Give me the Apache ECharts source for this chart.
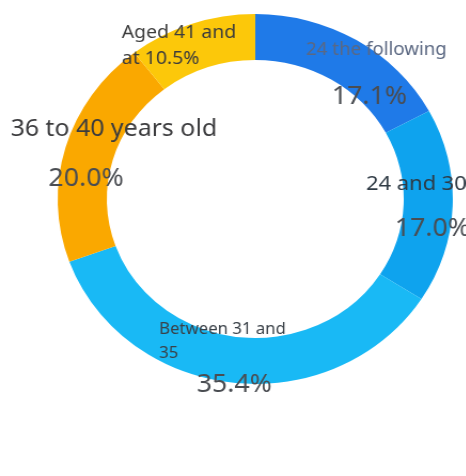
<!DOCTYPE html>
<html><head><meta charset="utf-8">
<script src="https://cdn.jsdelivr.net/npm/echarts@6/dist/echarts.min.js"></script>
<style>
html,body{margin:0;padding:0;background:#fff;overflow:hidden;}
#c{width:436px;height:476px;transform:scaleX(1.068);transform-origin:0 0;}
</style></head>
<body><div id="c"></div>
<script>
const categories = ['24 the following', '24 and 30', 'Between 31 and 35', '36 to 40 years old', 'Aged 41 and at'];
const values = [17.1, 17.0, 35.4, 20.0, 10.5];

// styling (not data)
const colors = ['#1f7ae8', '#0ea3ee', '#19b9f5', '#faa800', '#fcc80a'];
const nameSizes = [17.5, 20.5, 15.7, 23.3, 18.2];
const nameLH = [46, 42, 24, 52, 26];
const pctLH = [48, 48, 38, 48, 26];
const nameColors = ['#5b6882', '#2f3a44', '#3a4148', '#3c3c3e', '#3c3c3c'];
const labelOffsets = [[29, 17], [-14, 3], [-12, -2], [26, 0], [-18, 3]];
const pctPadding = [[0, 13, 0, 0], [0, 0, 0, 30], [0, 0, 0, 22], [0, 52, 0, 0], [0, 0, 0, 0]];
const wrapAt = [0, 0, 14, 0, 11];
const inlinePct = [false, false, false, false, true];
const leftLines = [false, false, true, false, true];

function wrap(text, max) {
  if (!max) return [text];
  const words = text.split(' ');
  const lines = [];
  let cur = '';
  words.forEach(w => {
    const t = cur ? cur + ' ' + w : w;
    if (t.length > max && cur) { lines.push(cur); cur = w; } else { cur = t; }
  });
  if (cur) lines.push(cur);
  return lines;
}

const chart = echarts.init(document.getElementById('c'), null, {renderer: 'canvas'});
const data = categories.map((n, i) => ({
  name: n,
  value: values[i],
  itemStyle: {color: colors[i]},
  label: {
    offset: labelOffsets[i],
    formatter: function (p) {
      const pct = p.percent.toFixed(1) + '%';
      if (inlinePct[i]) {
        return wrap(p.name + ' ' + pct, wrapAt[i]).map(l => '{n|' + l + '}').join('\n');
      }
      return wrap(p.name, wrapAt[i]).map(l => '{n|' + l + '}').join('\n') + '\n{p|' + pct + '}';
    },
    rich: {
      n: {fontSize: nameSizes[i], color: nameColors[i], fontFamily: 'Noto Sans', lineHeight: nameLH[i], align: leftLines[i] ? 'left' : 'center'},
      p: {fontSize: 25, color: '#4a4d52', fontFamily: 'Noto Sans', lineHeight: pctLH[i], padding: pctPadding[i], align: 'center'}
    }
  }
}));
chart.setOption({
  animation: false,
  series: [{
    type: 'pie',
    center: [239, 199],
    radius: [139, 185],
    startAngle: 90,
    clockwise: true,
    label: {show: true, position: 'inside', align: 'center'},
    labelLine: {show: false},
    labelLayout: {hideOverlap: false},
    data: data
  }]
});
</script></body></html>
